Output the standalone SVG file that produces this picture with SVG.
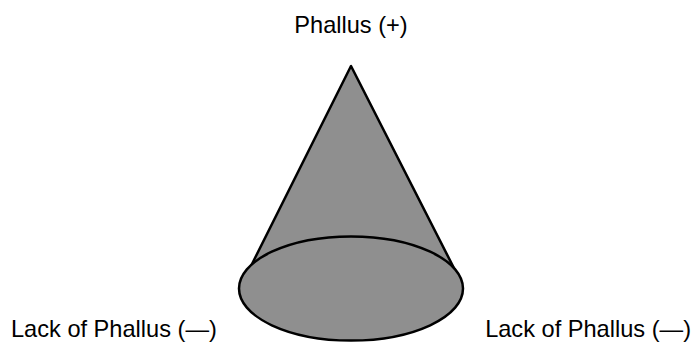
<svg xmlns="http://www.w3.org/2000/svg" width="694" height="343" viewBox="0 0 694 343">
<style>
.shape{fill:#8f8f8f;stroke:#000;stroke-width:2.5;stroke-linejoin:round}
.lbl{font-family:"Liberation Sans",Arial,Helvetica,sans-serif;font-size:23.6px;fill:#000}
</style>
<rect width="694" height="343" fill="#fff"/>
<g id="cone">
<polygon class="shape" points="351,66 245,278 459,278"/>
<ellipse class="shape" cx="351" cy="288.5" rx="112" ry="52"/>
</g>
<g id="top-label"><text class="lbl" x="351" y="33" text-anchor="middle">Phallus (+)</text></g>
<g id="left-label"><text class="lbl" x="11" y="336.5">Lack of Phallus (—)</text></g>
<g id="right-label"><text class="lbl" x="691" y="336.5" text-anchor="end">Lack of Phallus (—)</text></g>
<g id="connectors"></g>
</svg>
